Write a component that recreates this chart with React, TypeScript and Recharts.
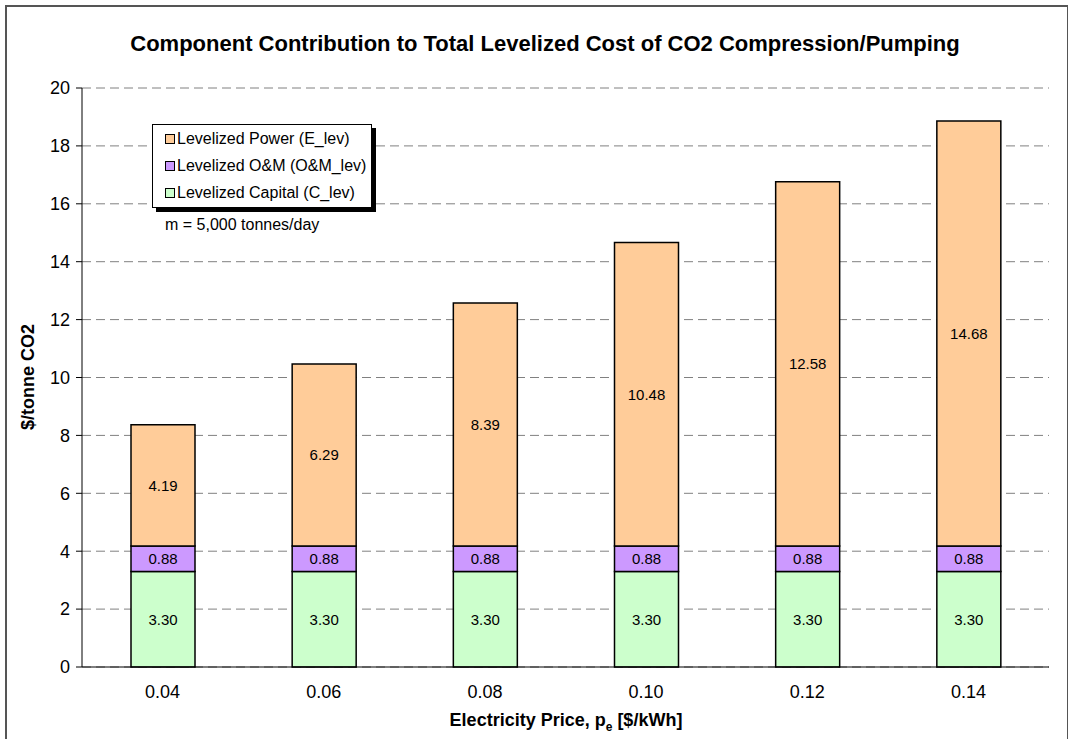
import { BarChart, Bar, XAxis, YAxis, CartesianGrid, LabelList } from 'recharts';

const prices = ['0.04', '0.06', '0.08', '0.10', '0.12', '0.14'];
const capital = [3.3, 3.3, 3.3, 3.3, 3.3, 3.3];
const om = [0.88, 0.88, 0.88, 0.88, 0.88, 0.88];
const power = [4.19, 6.29, 8.39, 10.48, 12.58, 14.68];
const yTicks = [0, 2, 4, 6, 8, 10, 12, 14, 16, 18, 20];

const series = [
  { key: 'power', name: 'Levelized Power (E_lev)', color: '#FFCC99' },
  { key: 'om', name: 'Levelized O&M (O&M_lev)', color: '#CC99FF' },
  { key: 'capital', name: 'Levelized Capital (C_lev)', color: '#CCFFCC' },
];

const data = prices.map((p, i) => ({
  price: p,
  capital: capital[i],
  om: om[i],
  power: power[i],
}));

const font = '"Liberation Sans", Arial, sans-serif';
const fmt = (v: number) => v.toFixed(2);

export default function App() {
  return (
    <div style={{ position: 'absolute', left: 0, top: 0, width: 1068, height: 739, background: '#fff', fontFamily: font, overflow: 'hidden' }}>
      <div style={{ position: 'absolute', left: 5, top: 5, width: 1060, height: 760, border: '2px solid #555' }} />
      <div style={{ position: 'absolute', left: 0, top: 31, width: 1090, textAlign: 'center', fontSize: 22, fontWeight: 'bold', whiteSpace: 'nowrap' }}>
        Component Contribution to Total Levelized Cost of CO2 Compression/Pumping
      </div>
      <div style={{ position: 'absolute', left: 0, top: 0 }}>
        <BarChart width={1068} height={739} data={data} margin={{ top: 88, right: 19, bottom: 42, left: 12 }} barSize={64}>
          <CartesianGrid vertical={false} stroke="#808080" strokeDasharray="9 5" />
          <XAxis
            dataKey="price"
            tickLine={false}
            axisLine={{ stroke: '#000' }}
            tick={{ fill: '#000', fontSize: 18, fontFamily: font }}
            height={30}
            tickMargin={12}
          />
          <YAxis
            domain={[0, 20]}
            ticks={yTicks}
            interval={0}
            width={70}
            axisLine={{ stroke: '#000' }}
            tickLine={{ stroke: '#000' }}
            tickSize={6}
            tickMargin={6}
            tick={{ fill: '#000', fontSize: 18, fontFamily: font }}
          />
          <YAxis yAxisId="r" orientation="right" width={0} tick={false} tickLine={false} axisLine={{ stroke: '#000' }} />
          <Bar dataKey="capital" stackId="a" fill="#CCFFCC" stroke="#000" strokeWidth={1.5} isAnimationActive={false}>
            <LabelList dataKey="capital" position="center" formatter={fmt} fill="#000" fontSize={15} fontFamily={font} />
          </Bar>
          <Bar dataKey="om" stackId="a" fill="#CC99FF" stroke="#000" strokeWidth={1.5} isAnimationActive={false}>
            <LabelList dataKey="om" position="center" formatter={fmt} fill="#000" fontSize={15} fontFamily={font} />
          </Bar>
          <Bar dataKey="power" stackId="a" fill="#FFCC99" stroke="#000" strokeWidth={1.5} isAnimationActive={false}>
            <LabelList dataKey="power" position="center" formatter={fmt} fill="#000" fontSize={15} fontFamily={font} />
          </Bar>
        </BarChart>
      </div>
      <div style={{ position: 'absolute', left: 28, top: 377, transform: 'translate(-50%, -50%) rotate(-90deg)', whiteSpace: 'nowrap', fontSize: 18, fontWeight: 'bold' }}>
        $/tonne CO2
      </div>
      <div style={{ position: 'absolute', left: 0, top: 710, width: 1132, textAlign: 'center', fontSize: 18, fontWeight: 'bold', whiteSpace: 'nowrap' }}>
        Electricity Price, p<sub style={{ fontSize: 12 }}>e</sub> [$/kWh]
      </div>
      <div style={{ position: 'absolute', left: 152, top: 124, width: 218, height: 82, border: '1px solid #000', background: '#fff', boxShadow: '4px 4px 0 #000', boxSizing: 'content-box' }}>
        {series.map((s, i) => (
          <div key={s.key} style={{ position: 'absolute', left: 12, top: 5 + i * 27, display: 'flex', alignItems: 'center', fontSize: 16, whiteSpace: 'nowrap' }}>
            <span style={{ display: 'inline-block', width: 8, height: 8, background: s.color, border: '1px solid #000', marginRight: 2 }} />
            {s.name}
          </div>
        ))}
      </div>
      <div style={{ position: 'absolute', left: 165, top: 216, fontSize: 16 }}>m = 5,000 tonnes/day</div>
    </div>
  );
}
